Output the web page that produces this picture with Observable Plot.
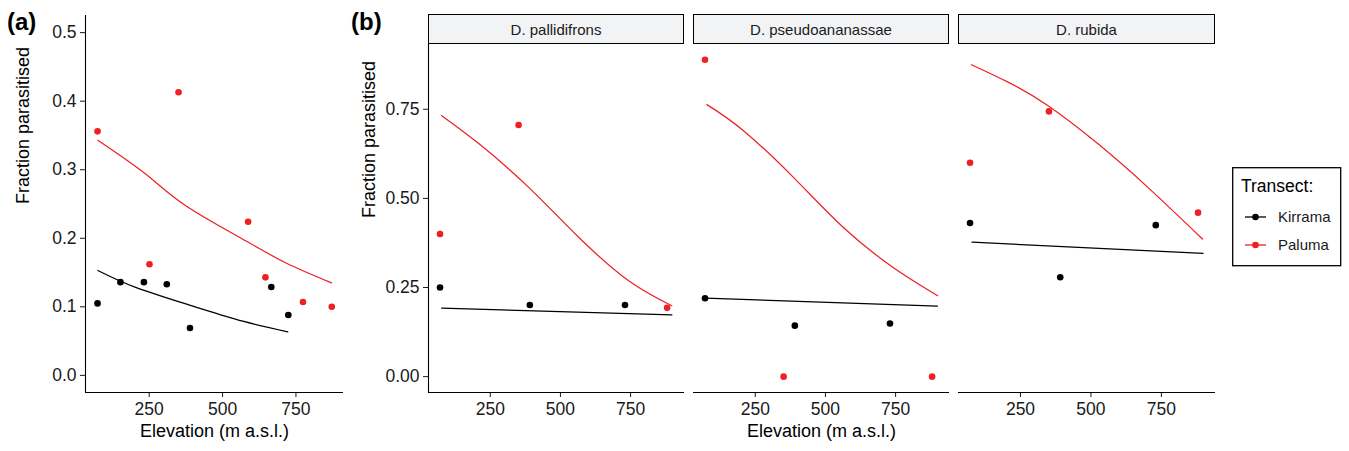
<!DOCTYPE html>
<html>
<head>
<meta charset="utf-8">
<script src="https://cdn.jsdelivr.net/npm/d3@7"></script>
<script src="https://cdn.jsdelivr.net/npm/@observablehq/plot@0.6"></script>
<style>
  html, body { margin: 0; padding: 0; background: #fff; }
  #root { position: relative; width: 1349px; height: 451px; overflow: hidden; background: #fff;
          font-family: "Liberation Sans", Arial, Helvetica, sans-serif; color: #1a1a1a; }
  .tag { position: absolute; font-weight: bold; font-size: 24px; line-height: 24px; color: #000; }
  .strip { position: absolute; box-sizing: border-box; border: 1.8px solid #000; background: #f2f3f5;
           font-size: 15px; display: flex; align-items: center; justify-content: center; color: #1a1a1a; }
</style>
</head>
<body>
<div id="root"></div>
<script>
// ---------- data ----------
const transects = ["Kirrama", "Paluma"];
const transectColors = ["#000000", "#ee2024"];

// Panel (a): all species pooled
const aKirElev = [74, 152, 232, 310, 389, 666, 724];
const aKirFrac = [0.105, 0.136, 0.136, 0.133, 0.069, 0.129, 0.088];
const aPalElev = [74, 251, 350, 587, 646, 774, 872];
const aPalFrac = [0.356, 0.162, 0.413, 0.224, 0.143, 0.107, 0.100];
// fitted curves
const aKirFitElev = [75, 206, 399, 569, 722];
const aKirFitFrac = [0.153, 0.128, 0.101, 0.079, 0.0635];
const aPalFitElev = [75, 240, 376, 580, 716, 871];
const aPalFitFrac = [0.343, 0.293, 0.247, 0.196, 0.164, 0.135];

// Panel (b): per species
const species = ["D. pallidifrons", "D. pseudoananassae", "D. rubida"];
const bKirElev = [71, 391, 730];
const bPalElev = [71, 351, 880];
const bKirFrac = [[0.250, 0.201, 0.201], [0.220, 0.143, 0.149], [0.431, 0.279, 0.425]];
const bPalFrac = [[0.400, 0.706, 0.193], [0.889, 0.000, 0.000], [0.600, 0.744, 0.460]];
const bKirFitElev = [[77, 897], [73, 899], [78, 898]];
const bKirFitFrac = [[0.192, 0.173], [0.220, 0.198], [0.377, 0.346]];
const bPalFitElev = [[77, 210, 387, 565, 743, 897], [78, 208, 386, 563, 740, 900], [76, 206, 348, 525, 702, 896]];
const bPalFitFrac = [[0.732, 0.653, 0.531, 0.391, 0.269, 0.199], [0.763, 0.690, 0.559, 0.419, 0.307, 0.227], [0.875, 0.826, 0.760, 0.653, 0.531, 0.386]];

const xTicks = [250, 500, 750];
const aYTicks = [0, 0.1, 0.2, 0.3, 0.4, 0.5];
const bYTicks = [0, 0.25, 0.5, 0.75];
const xTitle = "Elevation (m a.s.l.)";
const yTitle = "Fraction parasitised";

// ---------- helpers ----------
const zip = (xs, ys, t) => xs.map((x, i) => ({elev: x, frac: ys[i], transect: t}));
const root = document.getElementById("root");
const FONT = '"Liberation Sans", Arial, Helvetica, sans-serif';

function panel({left, width, mLeft, mRight, mTop, xDomain, yDomain, yTicks, yFmt, showY, showXTitle, points, fits, yTitleDx}) {
  const marks = [
    Plot.ruleY([yDomain[0]], {stroke: "#000", strokeWidth: 1.1}),
    Plot.line(fits, {x: "elev", y: "frac", stroke: "transect", z: "transect", strokeWidth: 1.25, curve: "natural"}),
    Plot.dot(points, {x: "elev", y: "frac", fill: "transect", r: 3.3})
  ];
  if (showY) {
    marks.unshift(Plot.ruleX([xDomain[0]], {stroke: "#000", strokeWidth: 1.1}));
    marks.push(Plot.text([yTitle], {text: d => d, frameAnchor: "left", dx: yTitleDx, rotate: -90, fontSize: 18, fill: "#000"}));
  }
  if (showXTitle) {
    marks.push(Plot.text([xTitle], {text: d => d, frameAnchor: "bottom", dy: 44, fontSize: 18, fill: "#000"}));
  }
  const chart = Plot.plot({
    width, height: 451,
    marginLeft: mLeft, marginRight: mRight, marginTop: mTop, marginBottom: 59,
    style: {fontFamily: FONT, fontSize: "17.5px", color: "#1a1a1a", background: "transparent", overflow: "visible"},
    x: {domain: xDomain, ticks: xTicks, tickSize: 5, tickPadding: 5, label: null},
    y: showY ? {domain: yDomain, ticks: yTicks, tickFormat: yFmt, tickSize: 5, tickPadding: 4, label: null}
             : {domain: yDomain, axis: null},
    color: {domain: transects, range: transectColors},
    marks
  });
  chart.style.position = "absolute";
  chart.style.left = left + "px";
  chart.style.top = "0px";
  root.appendChild(chart);
}

// ---------- panel (a) ----------
panel({
  left: 0, width: 350, mLeft: 85, mRight: 7, mTop: 15,
  xDomain: [33, 912], yDomain: [-0.025, 0.525], yTicks: aYTicks, yFmt: ".1f",
  showY: true, showXTitle: true, yTitleDx: -62,
  points: [...zip(aKirElev, aKirFrac, "Kirrama"), ...zip(aPalElev, aPalFrac, "Paluma")],
  fits: [...zip(aKirFitElev, aKirFitFrac, "Kirrama"), ...zip(aPalFitElev, aPalFitFrac, "Paluma")]
});

// ---------- panel (b) ----------
const facetLayout = [
  {left: 340, width: 346, mLeft: 88, mRight: 2},
  {left: 688, width: 263, mLeft: 5, mRight: 2},
  {left: 953, width: 264, mLeft: 5, mRight: 2}
];
species.forEach((sp, i) => {
  const L = facetLayout[i];
  panel({
    ...L, mTop: 43,
    xDomain: [30, 942], yDomain: [-0.0445, 0.9345], yTicks: bYTicks, yFmt: ".2f",
    showY: i === 0, showXTitle: i === 1, yTitleDx: -59,
    points: [...zip(bKirElev, bKirFrac[i], "Kirrama"), ...zip(bPalElev, bPalFrac[i], "Paluma")],
    fits: [...zip(bKirFitElev[i], bKirFitFrac[i], "Kirrama"), ...zip(bPalFitElev[i], bPalFitFrac[i], "Paluma")]
  });
  const s = document.createElement("div");
  s.className = "strip";
  s.style.left = (L.left + L.mLeft) + "px";
  s.style.width = (L.width - L.mLeft - L.mRight) + "px";
  s.style.top = "14px";
  s.style.height = "30px";
  s.textContent = sp;
  root.appendChild(s);
});

// ---------- tags ----------
[["(a)", 7], ["(b)", 351]].forEach(([t, x]) => {
  const d = document.createElement("div");
  d.className = "tag"; d.style.left = x + "px"; d.style.top = "10px"; d.textContent = t;
  root.appendChild(d);
});

// ---------- legend ----------
const leg = d3.select(root).append("svg")
  .attr("width", 110).attr("height", 100)
  .style("position", "absolute").style("left", "1232px").style("top", "167px")
  .style("font-family", FONT);
leg.append("rect").attr("x", 0.7).attr("y", 0.7).attr("width", 108).attr("height", 98)
  .attr("fill", "#fff").attr("stroke", "#000").attr("stroke-width", 1.3);
leg.append("text").attr("x", 9).attr("y", 25).attr("font-size", 17.5).attr("fill", "#000").text("Transect:");
transects.forEach((t, i) => {
  const cy = 50 + i * 28;
  leg.append("line").attr("x1", 13).attr("x2", 34).attr("y1", cy).attr("y2", cy)
    .attr("stroke", transectColors[i]).attr("stroke-width", 1.3);
  leg.append("circle").attr("cx", 23.5).attr("cy", cy).attr("r", 3.3).attr("fill", transectColors[i]);
  leg.append("text").attr("x", 46).attr("y", cy).attr("dy", "0.35em").attr("font-size", 15)
    .attr("fill", "#1a1a1a").text(t);
});
</script>
</body>
</html>
